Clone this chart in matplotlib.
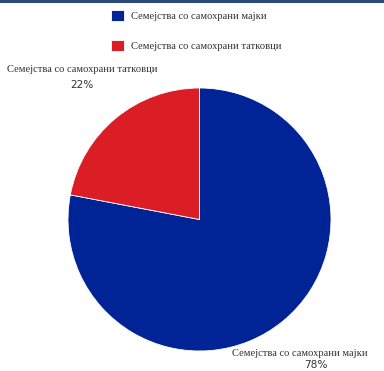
import matplotlib
matplotlib.use("Agg")
import matplotlib.pyplot as plt
from matplotlib.patches import Rectangle

categories = ["Семејства со самохрани мајки", "Семејства со самохрани татковци"]
values = [78, 22]
pct_labels = ["78%", "22%"]
colors = ["#002395", "#DB1E26"]

W, H = 384, 371
fig = plt.figure(figsize=(W / 100, H / 100), dpi=100)
ax = fig.add_axes([0, 0, 1, 1])
ax.set_xlim(0, W)
ax.set_ylim(0, H)
ax.set_aspect("equal")
ax.axis("off")

wedges, _ = ax.pie(values, colors=colors, startangle=90, counterclock=False,
                   center=(199.5, H - 219.5), radius=131.5,
                   wedgeprops=dict(linewidth=0.6, edgecolor="white"))
ax.set_xlim(0, W)
ax.set_ylim(0, H)

serif = ["Liberation Serif", "DejaVu Serif"]
fs = 7.6
# outside labels
label_pos = [(300, H - 353), (82, H - 70)]
pct_pos = [(316, H - 365.5), (82, H - 85.5)]
for i in range(len(categories)):
    ax.text(*label_pos[i], categories[i], ha="center", va="center",
            fontsize=fs, family=serif, color="#333333")
    ax.text(*pct_pos[i], pct_labels[i], ha="center", va="center",
            fontsize=fs, family="DejaVu Sans", color="#333333")

# legend
leg = ax.legend(wedges, categories, loc="upper left",
                bbox_to_anchor=(101.5 / W, 1 - 1 / H), frameon=False,
                prop=dict(family=serif, size=fs), handlelength=1.2,
                handleheight=1.2, handletextpad=0.65, labelspacing=1.8,
                labelcolor="#333333")

# top border line
fig.patches.append(Rectangle((0, 1 - 2.5 / H), 1, 2.5 / H, transform=fig.transFigure,
                             facecolor="#2c4a7a", edgecolor="none"))

fig.savefig("out.png", dpi=100)
